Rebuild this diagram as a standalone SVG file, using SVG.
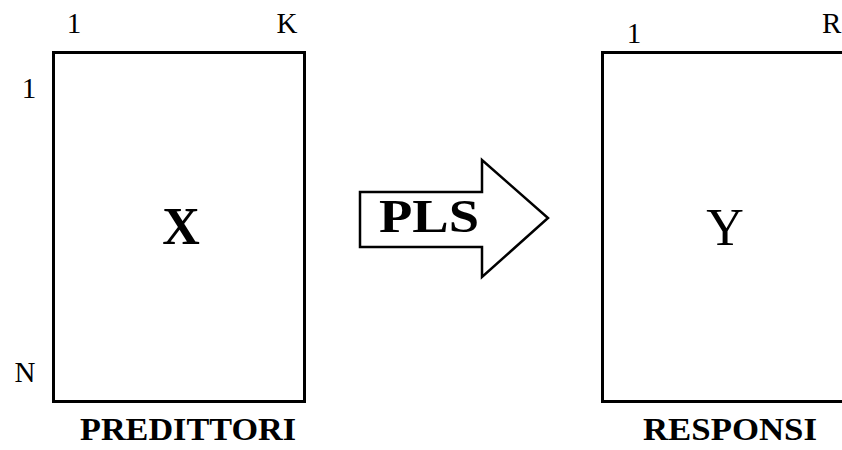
<svg xmlns="http://www.w3.org/2000/svg" width="842" height="450" viewBox="0 0 842 450">
<style>
.box{fill:#fff;stroke:#000;stroke-width:3}
.t{font-family:"Liberation Serif","Times New Roman",serif;fill:#000}
.idx{font-size:29px}
.cap{font-size:32px;font-weight:bold}
.big{font-size:52px}
</style>
<rect width="842" height="450" fill="#fff"/>
<g id="matrixX">
<rect class="box" x="53.5" y="52.5" width="251" height="349"/>
<text class="t big" x="181" y="244" text-anchor="middle" font-weight="bold">X</text>
<text class="t idx" x="74" y="33" text-anchor="middle">1</text>
<text class="t idx" x="287" y="33" text-anchor="middle">K</text>
<text class="t idx" x="29" y="98" text-anchor="middle">1</text>
<text class="t idx" x="25" y="382" text-anchor="middle">N</text>
<text class="t cap" x="80" y="440" textLength="216" lengthAdjust="spacingAndGlyphs">PREDITTORI</text>
</g>
<g id="matrixY">
<rect class="box" x="602.5" y="52.5" width="260" height="349"/>
<text class="t big" x="725" y="245" text-anchor="middle">Y</text>
<text class="t idx" x="634" y="43" text-anchor="middle">1</text>
<text class="t idx" x="822" y="33">R</text>
<text class="t cap" x="643" y="440" textLength="174" lengthAdjust="spacingAndGlyphs">RESPONSI</text>
</g>
<g id="connectors">
<g id="plsArrow">
<polygon points="360,192 482,192 482,160 548,218 482,277 482,247 360,247" fill="#fff" stroke="#000" stroke-width="2.5" stroke-linejoin="miter"/>
<text class="t" x="379" y="232" font-size="46" font-weight="bold" textLength="100" lengthAdjust="spacingAndGlyphs">PLS</text>
</g>
</g>
</svg>
